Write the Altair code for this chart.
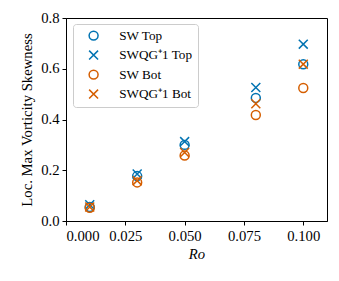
import altair as alt
import pandas as pd

ro = [0.01, 0.03, 0.05, 0.08, 0.10]
sw_top = [0.055, 0.177, 0.300, 0.485, 0.618]
swqg_top = [0.064, 0.185, 0.313, 0.526, 0.697]
sw_bot = [0.052, 0.152, 0.258, 0.418, 0.524]
swqg_bot = [0.055, 0.159, 0.270, 0.462, 0.618]

series = ["SW Top", "SWQG\u207a1 Top", "SW Bot", "SWQG\u207a1 Bot"]
values = [sw_top, swqg_top, sw_bot, swqg_bot]
colors = ["#0173B2", "#0173B2", "#D55E00", "#D55E00"]
xpath = "M-1,-1L1,1M-1,1L1,-1"
shapes = ["circle", xpath, "circle", xpath]

rows = []
for s, vals in zip(series, values):
    for r, v in zip(ro, vals):
        rows.append({"Ro": r, "val": v, "series": s})
df = pd.DataFrame(rows)

font = "Liberation Serif"

chart = alt.Chart(df).mark_point(filled=False, strokeWidth=1.5, size=80, opacity=1).encode(
    x=alt.X("Ro:Q", scale=alt.Scale(domain=[0, 0.11], nice=False, zero=False),
            axis=alt.Axis(values=[0, 0.025, 0.05, 0.075, 0.1], format=".3f", title="Ro",
                          titleFontStyle="italic")),
    y=alt.Y("val:Q", scale=alt.Scale(domain=[0, 0.8], nice=False),
            axis=alt.Axis(values=[0, 0.2, 0.4, 0.6, 0.8], format=".1f",
                          title="Loc. Max Vorticity Skewness")),
    color=alt.Color("series:N", scale=alt.Scale(domain=series, range=colors),
                    legend=alt.Legend(title=None, orient="none", legendX=7, legendY=6)),
    shape=alt.Shape("series:N", scale=alt.Scale(domain=series, range=shapes),
                    legend=alt.Legend(title=None, orient="none", legendX=7, legendY=6)),
).properties(
    width=261, height=203,
    autosize=alt.AutoSizeParams(type="none"),
    padding={"left": 58, "top": 10, "right": 4, "bottom": 52},
).configure_view(
    stroke="black", strokeWidth=1
).configure_axis(
    labelFont=font, titleFont=font, labelFontSize=14.7, titleFontSize=14.7,
    labelColor="black", titleColor="black", tickColor="black", domainColor="black",
    tickSize=4, grid=False, labelPadding=3, titleFontWeight="normal",
).configure_axisX(
    titlePadding=4,
).configure_axisY(
    titlePadding=6,
).configure_legend(
    labelFont=font, labelFontSize=13.2, labelColor="black", labelFontWeight="normal",
    strokeColor="#cccccc", fillColor="white", cornerRadius=3, padding=5,
    symbolSize=80, symbolStrokeWidth=1.5, rowPadding=3.5, labelOffset=19,
    symbolOffset=9,
)

chart.save("out.html", embed_options={"renderer": "svg", "actions": False})
